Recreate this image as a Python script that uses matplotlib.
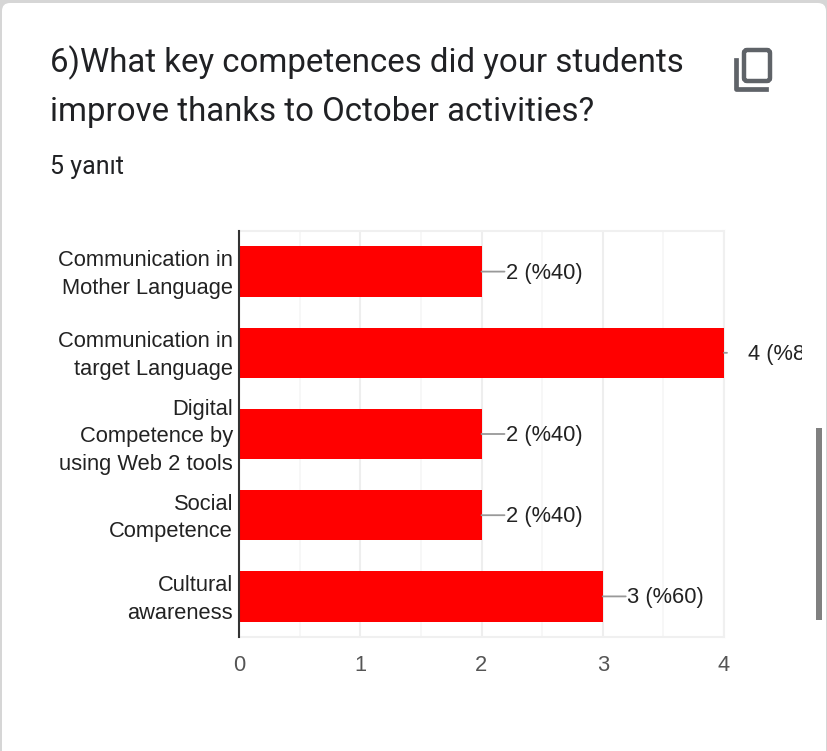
import matplotlib
matplotlib.use('Agg')
import matplotlib.pyplot as plt
from matplotlib.patches import FancyBboxPatch, Rectangle
from matplotlib.transforms import Bbox, ScaledTranslation

categorias = ['Communication in\nMother Language', 'Communication in\ntarget Language',
              'Digital\nCompetence by\nusing Web 2 tools', 'Social\nCompetence', 'Cultural\nawareness']
respostas = [2, 4, 2, 2, 3]
percentuais = [40, 80, 40, 40, 60]
x_ticks = [0, 1, 2, 3, 4]
x_minor = [0.5, 1.5, 2.5, 3.5]

titulo = '6)What key competences did your students\nimprove thanks to October activities?'
subtitulo = '5 yanıt'

W, H = 827, 751
fig = plt.figure(figsize=(W / 100, H / 100), dpi=100, facecolor='#d6d6d6')

# camada de fundo em pixels (cartao, icone, barra de rolagem)
bg = fig.add_axes([0, 0, 1, 1], zorder=0)
bg.set_xlim(0, W)
bg.set_ylim(H, 0)
bg.axis('off')
bg.add_patch(FancyBboxPatch((8, 9), 812, H + 20, boxstyle='round,pad=6,rounding_size=8',
                            fc='white', ec='none'))
bg.add_patch(FancyBboxPatch((744, 50), 26, 31, boxstyle='round,pad=0,rounding_size=3',
                            fc='none', ec='#5f6368', lw=3.2))
bg.plot([736, 736, 766], [60, 89, 89], color='#5f6368', lw=3.4, solid_joinstyle='round')
bg.add_patch(Rectangle((816, 428), 6, 192, fc='#808080', ec='none'))

bg.text(50, 86.5, titulo, fontsize=23.8, family='Roboto', color='#202124', va='center',
        linespacing=1.64)
bg.text(50.5, 167, subtitulo, fontsize=18, family='Roboto', color='#202124', va='center')

# grafico
ax = fig.add_axes([239 / W, 1 - 637 / H, (724 - 239) / W, (637 - 231) / H], zorder=1)
ax.patch.set_alpha(0)
pos = list(range(len(categorias)))
ax.barh(pos, respostas, height=0.62, color='#ff0000', zorder=3)
ax.set_xlim(0, 4)
ax.set_ylim(len(categorias) - 0.5, -0.5)

ax.set_yticks(pos)
ax.set_yticklabels(categorias, fontsize=15.75, family='Liberation Sans', color='#222222',
                   ma='right', linespacing=1.42)
ax.set_xticks(x_ticks)
ax.set_xticks(x_minor, minor=True)
ax.set_xticklabels([str(t) for t in x_ticks], fontsize=15.75, family='Liberation Sans', color='#555555')
ax.tick_params(axis='y', length=0, pad=4.2)
ax.tick_params(axis='x', which='major', length=0, pad=13)
ax.tick_params(axis='x', which='minor', length=0)
ax.grid(axis='x', which='major', color='#eeeeee', lw=1.5, zorder=0)
ax.grid(axis='x', which='minor', color='#f6f6f6', lw=1.2, zorder=0)

# sobe os rotulos 3 px (depois do tick_params, que refaz o transform)
sobe = ScaledTranslation(0, 3 / 100, fig.dpi_scale_trans)
for rotulo in ax.get_yticklabels():
    rotulo.set_transform(rotulo.get_transform() + sobe)

for lado in ['top', 'bottom', 'right']:
    ax.spines[lado].set_color('#f0f0f0')
    ax.spines[lado].set_linewidth(1.5)
ax.spines['left'].set_color('#333333')
ax.spines['left'].set_linewidth(1.5)
ax.spines['left'].set_zorder(5)

corte = Bbox([[0, 0], [802, H]])
for i, (v, p) in enumerate(zip(respostas, percentuais)):
    fim = 3 if v == max(respostas) else 23
    ax.annotate('', xy=(v, i), xytext=(fim, 0), textcoords='offset pixels',
                arrowprops=dict(arrowstyle='-', color='#999999', lw=1.3, shrinkA=0, shrinkB=0),
                annotation_clip=False, zorder=4)
    t = ax.annotate(f'{v} (%{p})', xy=(v, i), xytext=(24, -1.5), textcoords='offset pixels',
                    va='center', ha='left', fontsize=15.75, family='Liberation Sans',
                    color='#222222', annotation_clip=False, zorder=4)
    t.set_clip_on(True)
    t.set_clip_box(corte)

fig.savefig('out.png', dpi=100, facecolor=fig.get_facecolor())
